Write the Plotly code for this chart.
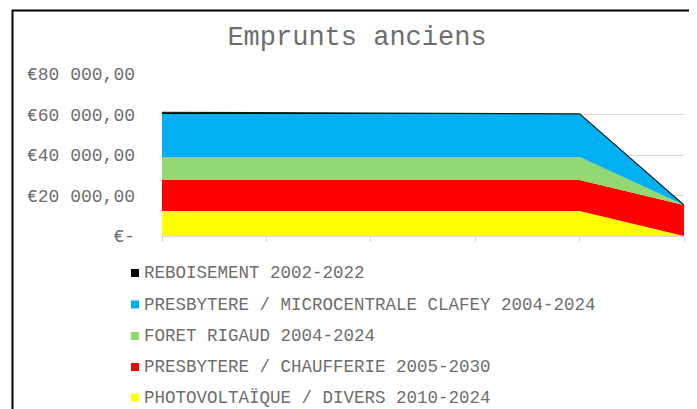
import plotly.graph_objects as go

categories = ["1", "2", "3", "4", "5", "6"]
series_names = [
    "REBOISEMENT 2002-2022",
    "PRESBYTERE / MICROCENTRALE CLAFEY 2004-2024",
    "FORET RIGAUD 2004-2024",
    "PRESBYTERE / CHAUFFERIE 2005-2030",
    "PHOTOVOLTAÏQUE / DIVERS 2010-2024",
]
reboisement = [800, 600, 400, 200, 0, 0]
microcentrale = [21300, 21300, 21300, 21300, 21300, 0]
foret_rigaud = [11300, 11300, 11300, 11300, 11300, 0]
chaufferie = [15300, 15300, 15300, 15300, 15300, 15300]
photovoltaique = [12400, 12400, 12400, 12400, 12400, 0]

colors = ["#000000", "#00B0F0", "#92D873", "#FF0000", "#FFFF00"]
tick_vals = [0, 20000, 40000, 60000, 80000]
tick_text = ["€-", "€20 000,00", "€40 000,00", "€60 000,00", "€80 000,00"]

# page has an 8px body margin; work in window pixels and convert
OFF = 8
W, H = 697 - OFF, 409 - OFF
L, R, T, B = 162 - OFF, 684 - OFF, 74 - OFF, 236 - OFF
FONT = "Liberation Mono, Courier New, monospace"
GREY = "#6e6e6e"

x = list(range(len(categories)))
fig = go.Figure()
stack = [
    (series_names[4], photovoltaique, colors[4]),
    (series_names[3], chaufferie, colors[3]),
    (series_names[2], foret_rigaud, colors[2]),
    (series_names[1], microcentrale, colors[1]),
    (series_names[0], reboisement, colors[0]),
]
for name, vals, col in stack:
    is_black = col == "#000000"
    fig.add_trace(go.Scatter(
        x=x, y=vals, name=name, stackgroup="one", mode="lines",
        line=dict(width=1.2 if is_black else 0, color="#1a1a1a" if is_black else col),
        fillcolor=col, showlegend=False,
        customdata=categories, hovertemplate="%{customdata}: %{y}<extra>" + name + "</extra>",
    ))

def px_x(p):
    return (p - OFF - L) / (R - L)

def px_y(p):
    return (B - (p - OFF)) / (B - T)

shapes = [dict(type="rect", xref="paper", yref="paper",
               x0=px_x(12.5), x1=px_x(693), y0=px_y(440), y1=px_y(10.5),
               line=dict(color="#000000", width=2), layer="above")]
annotations = []
legend_y = [273, 304.5, 336, 367, 397.5]
for i, name in enumerate(series_names):
    yc = legend_y[i]
    shapes.append(dict(type="rect", xref="paper", yref="paper",
                       x0=px_x(131), x1=px_x(139), y0=px_y(yc + 4), y1=px_y(yc - 4),
                       fillcolor=colors[i], line=dict(width=0)))
    annotations.append(dict(text=name, xref="paper", yref="paper",
                            x=px_x(142), y=px_y(yc), xanchor="left", yanchor="middle",
                            showarrow=False, font=dict(family=FONT, size=17.5, color=GREY)))

fig.update_layout(
    width=W, height=H,
    margin=dict(l=L, r=W - R, t=T, b=H - B),
    paper_bgcolor="white", plot_bgcolor="white",
    title=dict(text="Emprunts anciens", x=(357 - OFF) / W, xref="container", xanchor="center",
               y=1 - (36 - OFF) / H, yanchor="middle",
               font=dict(family=FONT, size=27, color=GREY)),
    xaxis=dict(range=[0, 5], tickvals=x, showticklabels=False, ticks="outside",
               ticklen=5, tickcolor="#D9D9D9", showgrid=False, showline=True,
               linecolor="#D9D9D9", linewidth=1, zeroline=False, fixedrange=True),
    yaxis=dict(range=[0, 80000], tickvals=tick_vals, ticktext=tick_text,
               showgrid=True, gridcolor="#D9D9D9", gridwidth=1, zeroline=False,
               ticks="", ticklabelstandoff=26,
               tickfont=dict(family=FONT, size=18, color=GREY), fixedrange=True),
    shapes=shapes, annotations=annotations, showlegend=False,
)
fig.write_html("out.html")
